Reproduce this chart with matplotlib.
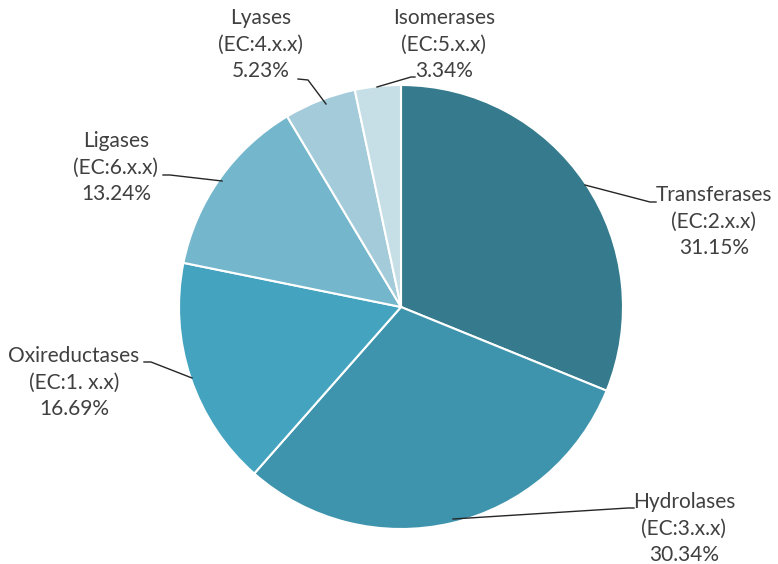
import matplotlib.pyplot as plt

# Enzyme classes, clockwise from 12 o'clock
names = ["Transferases", "Hydrolases", "Oxireductases", "Ligases", "Lyases", "Isomerases"]
ec_codes = ["(EC:2.x.x)", "(EC:3.x.x)", "(EC:1. x.x)", "(EC:6.x.x)", "(EC:4.x.x)", "(EC:5.x.x)"]
shares = [31.15, 30.34, 16.69, 13.24, 5.23, 3.34]
colors = ["#357b8d", "#3f94ad", "#44a4c0", "#74b7cd", "#a4cbd9", "#c6dee6"]

# label anchor (text centre, first line) and leader line points, pixel coords from top-left
label_pos = [(714, 195), (684, 502), (74, 356), (116, 141), (261, 18), (444, 18)]
leaders = [
    [(585, 185), (650, 202), (656, 202)],
    [(453, 519), (628, 508), (634, 508)],
    [(192, 378), (151, 362), (144, 362)],
    [(222, 181), (170, 175), (163, 175)],
    [(326, 104), (308, 80), (298, 79)],
    [(377, 87), (411, 77), (415, 77)],
]
line_step = 26.5

W, H = 778, 564
fig = plt.figure(figsize=(W / 100, H / 100), dpi=100)
ax = fig.add_axes([0, 0, 1, 1])

ax.pie(
    shares,
    colors=colors,
    startangle=90,
    counterclock=False,
    center=(401, H - 307),
    radius=222,
    frame=True,
    wedgeprops=dict(edgecolor="white", linewidth=1.5),
)
ax.set_xlim(0, W)
ax.set_ylim(0, H)
ax.set_aspect("equal")
ax.axis("off")

for name, code, val, (tx, ty), pts in zip(names, ec_codes, shares, label_pos, leaders):
    rows = [name, code, f"{val:.2f}%"]
    for i, row in enumerate(rows):
        ax.text(tx, H - (ty + i * line_step), row, ha="center", va="center",
                fontsize=15, family="Lato", color="#404040")
    xs = [p[0] for p in pts]
    ys = [H - p[1] for p in pts]
    ax.plot(xs, ys, color="#262626", linewidth=1.0)

fig.savefig("out.png", dpi=100)
